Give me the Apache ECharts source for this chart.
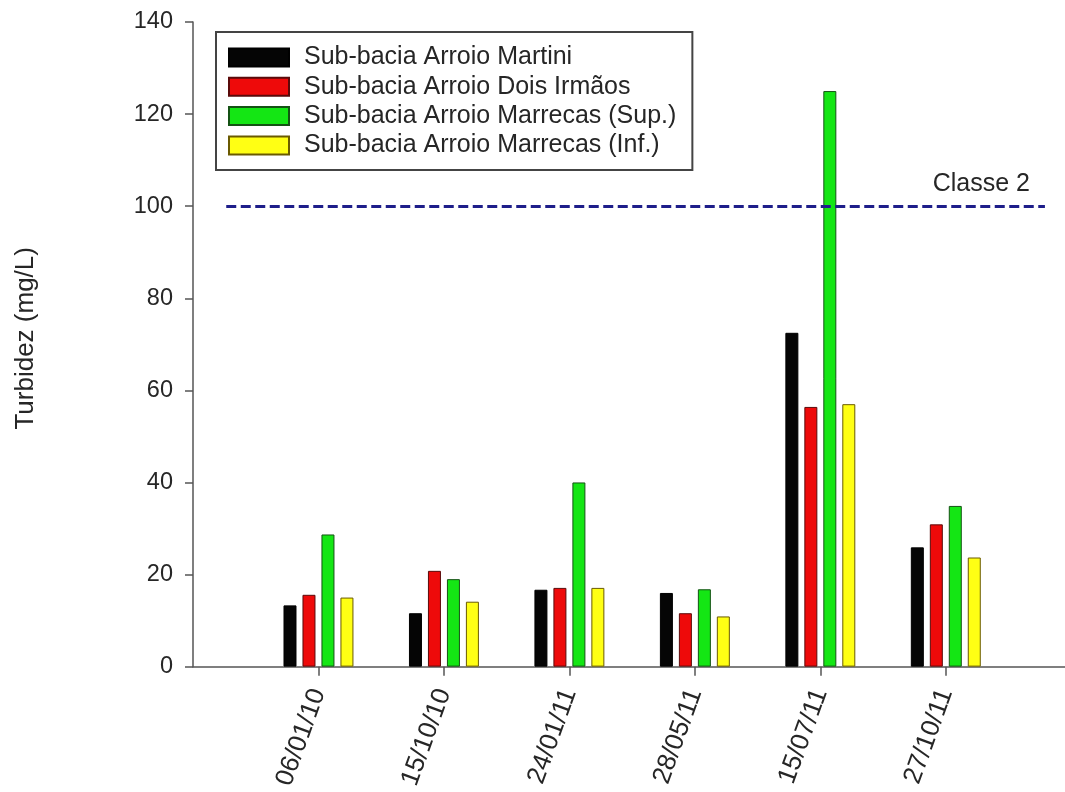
<!DOCTYPE html>
<html>
<head>
<meta charset="utf-8">
<script src="https://cdn.jsdelivr.net/npm/echarts@6/dist/echarts.min.js"></script>
<style>
  html, body { margin: 0; padding: 0; background: #ffffff; }
  #chart { width: 1065px; height: 792px; }
</style>
</head>
<body>
<div id="chart"></div>
<script>
// Sampling dates (one group of bars per date)
const categories = ['06/01/10', '15/10/10', '24/01/11', '28/05/11', '15/07/11', '27/10/11'];

// Turbidity per sub-basin (mg/L)
const seriesNames = [
  'Sub-bacia Arroio Martini',
  'Sub-bacia Arroio Dois Irmãos',
  'Sub-bacia Arroio Marrecas (Sup.)',
  'Sub-bacia Arroio Marrecas (Inf.)'
];
const martini      = [13.3, 11.6, 16.7, 16.0, 72.5, 25.9];
const doisIrmaos   = [15.6, 20.8, 17.1, 11.6, 56.4, 30.9];
const marrecasSup  = [28.7, 19.0, 40.0, 16.8, 125.0, 34.9];
const marrecasInf  = [15.0, 14.1, 17.1, 10.9, 57.0, 23.7];

const yTicks = [0, 20, 40, 60, 80, 100, 120, 140];

// Class 2 limit for turbidity (mg/L)
const classe2Limit = 100;
const classe2Label = 'Classe 2';

// Visual styling
const fillColors   = ['#050505', '#ee0a0a', '#14e614', '#ffff14'];
const borderColors = ['#000000', '#5a0a0a', '#145214', '#6a5a00'];
const textColor = '#262626';
const axisColor = '#555555';
const fontFamily = 'Liberation Sans, Arial, sans-serif';

// Horizontal extent of the class-limit line along the date axis
const limitLineFrom = -0.735;
const limitLineTo = 5.79;

const valuesBySeries = [martini, doisIrmaos, marrecasSup, marrecasInf];
const tickIndices = categories.map((c, i) => i);

const chart = echarts.init(document.getElementById('chart'), null, { renderer: 'canvas' });

const barSeries = valuesBySeries.map((vals, s) => ({
  name: seriesNames[s],
  type: 'bar',
  data: vals.map((v, i) => [i, v]),
  barWidth: 13,
  barGap: '46%',
  itemStyle: {
    color: fillColors[s],
    borderColor: borderColors[s],
    borderWidth: 1
  },
  emphasis: { disabled: true },
  animation: false
}));

// Dashed reference line for the class 2 limit
const limitSeries = {
  name: classe2Label,
  type: 'line',
  data: [],
  silent: true,
  animation: false,
  markLine: {
    silent: true,
    symbol: ['none', 'none'],
    animation: false,
    lineStyle: { color: '#1e1e8a', width: 3, type: [10, 4.5], opacity: 1 },
    label: {
      show: true,
      position: 'insideEndTop',
      distance: [15, 10],
      formatter: classe2Label,
      fontFamily: fontFamily,
      fontSize: 25,
      color: textColor
    },
    data: [[
      { coord: [limitLineFrom, classe2Limit] },
      { coord: [limitLineTo, classe2Limit] }
    ]]
  }
};

const option = {
  backgroundColor: '#ffffff',
  animation: false,
  textStyle: { fontFamily: fontFamily },
  grid: { left: 193, right: 0, top: 22, bottom: 124, containLabel: false },
  legend: {
    orient: 'vertical',
    left: 216,
    top: 32,
    data: seriesNames,
    icon: 'rect',
    itemWidth: 60,
    itemHeight: 18,
    itemGap: 4.3,
    padding: [13, 16, 12, 12],
    borderColor: '#444444',
    borderWidth: 2,
    borderRadius: 0,
    selectedMode: false,
    textStyle: {
      fontFamily: fontFamily,
      fontSize: 25,
      lineHeight: 25,
      color: textColor,
      padding: [0, 0, 0, 10]
    }
  },
  xAxis: {
    type: 'value',
    min: -1,
    max: 5.95,
    splitLine: { show: false },
    axisLine: { show: true, onZero: false, lineStyle: { color: axisColor, width: 1.5 } },
    axisTick: {
      show: true,
      inside: false,
      length: 9,
      customValues: tickIndices,
      lineStyle: { color: axisColor, width: 1.5 }
    },
    axisLabel: {
      show: true,
      customValues: tickIndices,
      rotate: 70,
      margin: 23,
      fontFamily: fontFamily,
      fontSize: 26,
      color: textColor,
      formatter: (v) => categories[Math.round(v)]
    }
  },
  yAxis: {
    type: 'value',
    min: yTicks[0],
    max: yTicks[yTicks.length - 1],
    interval: 20,
    name: 'Turbidez (mg/L)',
    nameLocation: 'middle',
    nameRotate: 90,
    nameGap: 154,
    nameTextStyle: {
      fontFamily: fontFamily,
      fontSize: 26,
      color: textColor,
      padding: [0, 0, 0, 12]
    },
    splitLine: { show: false },
    axisLine: { show: true, onZero: false, lineStyle: { color: axisColor, width: 1.5 } },
    axisTick: { show: true, inside: false, length: 8, lineStyle: { color: axisColor, width: 1.5 } },
    axisLabel: {
      margin: 20,
      fontFamily: fontFamily,
      fontSize: 23.5,
      color: textColor
    }
  },
  series: barSeries.concat([limitSeries])
};

chart.setOption(option);
</script>
</body>
</html>
